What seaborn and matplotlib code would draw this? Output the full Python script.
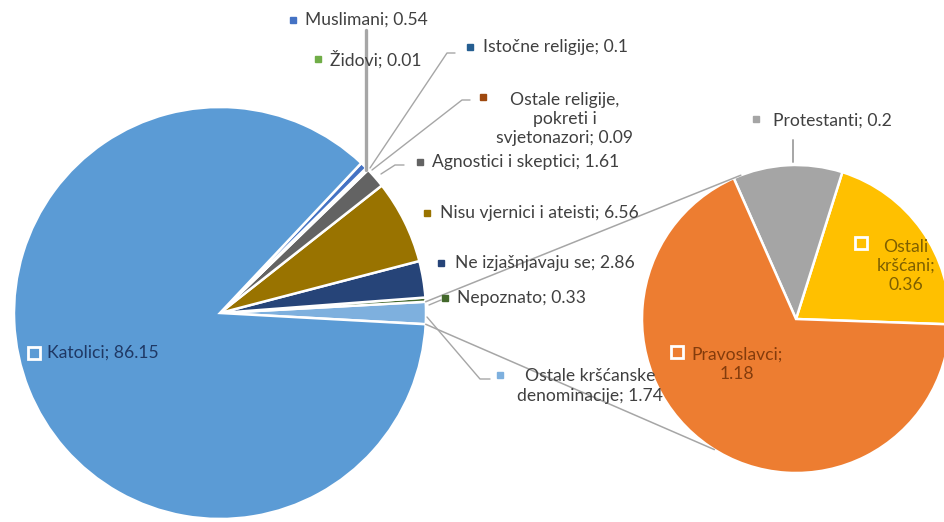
import numpy as np
import matplotlib.pyplot as plt
import seaborn as sns

# main pie, counterclockwise starting from the split-off slice
main_labels = ["Ostale kršćanske denominacije", "Nepoznato", "Ne izjašnjavaju se",
               "Nisu vjernici i ateisti", "Agnostici i skeptici",
               "Ostale religije, pokreti i svjetonazori", "Istočne religije",
               "Židovi", "Muslimani", "Katolici"]
main_values = [1.74, 0.33, 2.86, 6.56, 1.61, 0.09, 0.1, 0.01, 0.54, 86.15]
main_colors = ["#7EB0DE", "#43682B", "#264478", "#997300", "#636363",
               "#9E480E", "#255E91", "#70AD47", "#4472C4", "#5B9BD5"]

# secondary pie (breakdown of "Ostale kršćanske denominacije")
sub_labels = ["Ostali kršćani", "Protestanti", "Pravoslavci"]
sub_values = [0.36, 0.2, 1.18]
sub_colors = ["#FFC000", "#A5A5A5", "#ED7D31"]

W, H = 944, 522
MAIN_C, MAIN_R = (220, H - 313), 206
SUB_C, SUB_R = (796, H - 319), 154
LINE_GRAY = "#A6A6A6"
TEXT = "#404040"

sns.set_theme(style="white")
plt.rcParams["font.family"] = ["Lato", "DejaVu Sans"]

fig = plt.figure(figsize=(W / 100, H / 100), dpi=100)
ax = fig.add_axes([0, 0, 1, 1])

split_deg = main_values[0] / sum(main_values) * 360
ax.pie(main_values, colors=main_colors, startangle=-split_deg / 2, counterclock=True,
       center=MAIN_C, radius=MAIN_R, frame=True,
       wedgeprops=dict(edgecolor="white", linewidth=1.8))
ax.pie(sub_values, colors=sub_colors, startangle=-2, counterclock=True,
       center=SUB_C, radius=SUB_R, frame=True,
       wedgeprops=dict(edgecolor="white", linewidth=1.8))
ax.set_xlim(0, W)
ax.set_ylim(0, H)
ax.set_aspect("equal")
ax.axis("off")


def on_circle(center, r, deg):
    a = np.deg2rad(deg)
    return center[0] + r * np.cos(a), center[1] + r * np.sin(a)


# connector lines between the split slice and the secondary pie
for main_deg, sub_deg in [(split_deg / 2, 111), (-split_deg / 2, 238)]:
    p1 = on_circle(MAIN_C, MAIN_R, main_deg)
    p2 = on_circle(SUB_C, SUB_R, sub_deg)
    ax.plot([p1[0], p2[0]], [p1[1], p2[1]], color=LINE_GRAY, lw=1.1, zorder=1)


def py(y):
    return H - y


# leader lines (pixel coordinates, y from top)
leaders = [
    ([366, 366], [30, 170], 2.4),
    ([370, 447, 455], [168, 53, 53], 1.0),
    ([372, 462, 470], [170, 100, 100], 1.0),
    ([381, 395, 404], [174, 165, 165], 1.0),
    ([429, 441], [305, 300], 1.0),
    ([427, 480, 490], [317, 379, 379], 1.0),
    ([793, 793], [140, 162], 1.4),
]
for xs, ys, lw in leaders:
    ax.plot(xs, [py(v) for v in ys], color=LINE_GRAY, lw=lw, zorder=3)

FS = 12.6

# outside labels: (text, color of key, key x, key y, text x, text y, ha)
outside = [
    ("Muslimani; 0.54", "#4472C4", 293, 20, 305, 20, "left"),
    ("Židovi; 0.01", "#70AD47", 318, 59, 330, 59, "left"),
    ("Istočne religije; 0.1", "#255E91", 470, 47, 483, 47, "left"),
    ("Ostale religije,\npokreti i\nsvjetonazori; 0.09", "#9E480E", 483, 97, 565, 119, "center"),
    ("Agnostici i skeptici; 1.61", "#636363", 420, 162, 432, 162, "left"),
    ("Nisu vjernici i ateisti; 6.56", "#997300", 427, 213, 440, 213, "left"),
    ("Ne izjašnjavaju se; 2.86", "#264478", 441, 263, 455, 263, "left"),
    ("Nepoznato; 0.33", "#43682B", 445, 298, 457, 298, "left"),
    ("Ostale kršćanske\ndenominacije; 1.74", "#7EB0DE", 500, 375, 590, 386, "center"),
    ("Protestanti; 0.2", "#A5A5A5", 756, 119, 773, 121, "left"),
]
for txt, col, kx, ky, tx, ty, ha in outside:
    ax.plot(kx, py(ky), marker="s", ms=5, color=col, mec=col, zorder=4)
    ax.text(tx, py(ty), txt, ha=ha, va="center", fontsize=FS, color=TEXT,
            linespacing=1.25, zorder=5)

# labels inside the slices, with hollow keys
inside = [
    ("Katolici; 86.15", "#5B9BD5", "#1F3864", 34, 353, 47, 353, "left"),
    ("Pravoslavci;\n1.18", "#ED7D31", "#843C0C", 677, 352, 737, 364, "center"),
    ("Ostali\nkršćani;\n0.36", "#FFC000", "#7F6000", 861, 243, 906, 266, "center"),
]
for txt, col, tcol, kx, ky, tx, ty, ha in inside:
    ax.plot(kx, py(ky), marker="s", ms=8, color=col, mec="white", mew=2, zorder=4)
    ax.text(tx, py(ty), txt, ha=ha, va="center", fontsize=FS, color=tcol,
            linespacing=1.25, zorder=5)

fig.savefig("out.png", dpi=100, facecolor="white")
